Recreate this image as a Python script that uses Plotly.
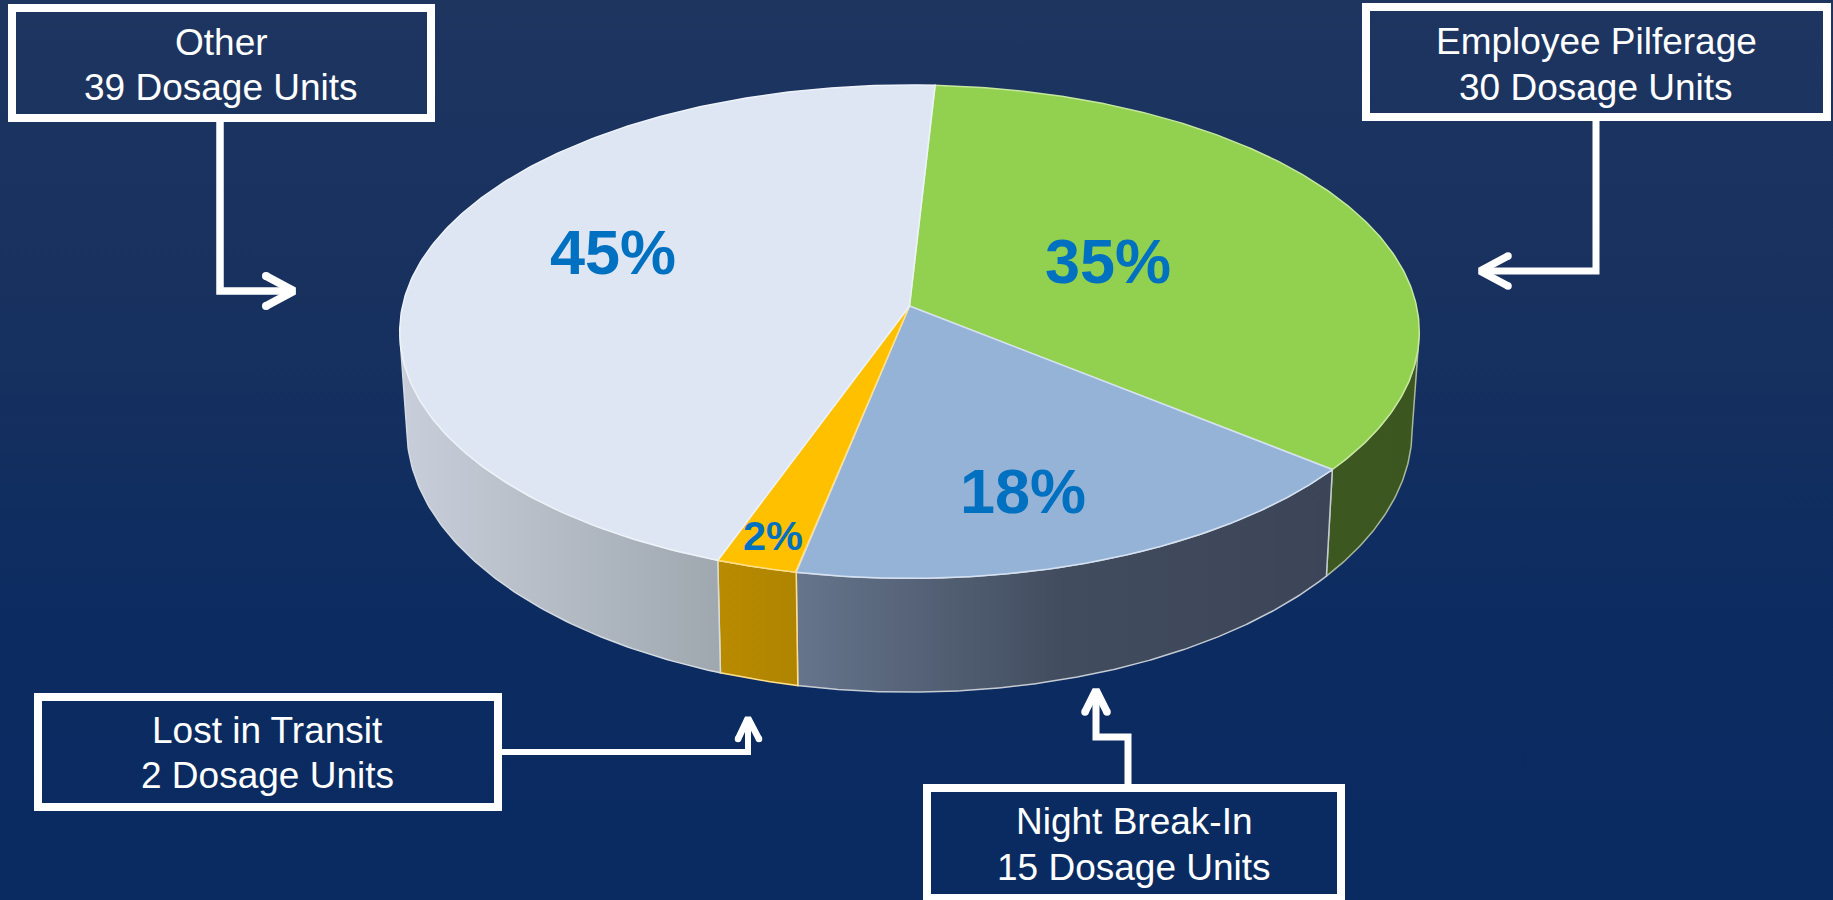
import numpy as np
import plotly.graph_objects as go

# ---- data ----
categories = ["Employee Pilferage", "Night Break-In", "Lost in Transit", "Other"]
dosage_units = [30, 15, 2, 39]
percent_labels = ["35%", "18%", "2%", "45%"]

# ---- styling ----
top_colors = ["#92D050", "#95B3D7", "#FFC000", "#DEE6F3"]
edge_colors = ["#C6E89E", "#D5E2F2", "#FFE08A", "#EEF3F9"]
wall_edges = ["#A9B79A", "#C5CBD3", "#FFE08A", "#D6DBE2"]
side_stops = [
    (1100, 1420, ["#3F5A1F", "#3C5620"]),
    (795, 1335, ["#66758C", "#414C5E", "#3B4557"]),
    (715, 796, ["#B98B00", "#AF8400"]),
    (400, 720, ["#C8CFDA", "#9FA7AF"]),
]
START_DEG = 3.2
CX, CY = 909.5, 306.0
A, B, K = 507.0, 244.0, 0.1043
SIDE_SX, SIDE_SY, SIDE_Y0 = 0.986, 1.065, 402.0

label_pos = [(1108, 261, 63), (1023, 491, 63), (773, 535, 41.5), (613, 252, 63)]
boxes = [
    (12, 8, 431, 118),
    (1366, 7, 1827, 117),
    (38, 697, 498, 807),
    (927, 788, 1341, 898),
]
box_text = [
    ("Other", "39 Dosage Units", 221, 53, 98),
    ("Employee Pilferage", "30 Dosage Units", 1596, 52, 98),
    ("Lost in Transit", "2 Dosage Units", 267, 741, 786),
    ("Night Break-In", "15 Dosage Units", 1134, 832, 878),
]
arrows = [
    ([220, 220, 293], [122, 291, 291], [(266, 276), (294, 291), (266, 306)], 7.5),
    ([1596, 1596, 1481], [121, 271, 271], [(1508, 256), (1480, 271), (1508, 286)], 7),
    ([502, 748, 748], [752, 752, 719], [(738, 739), (748, 718), (759, 739)], 6),
    ([1128, 1128, 1096, 1096], [784, 737, 737, 691], [(1085, 712), (1096, 690), (1107, 712)], 7),
]


def rim(theta_deg):
    t = np.radians(theta_deg)
    u, v = np.sin(t), -np.cos(t)
    d = 1 - K * v
    return A * u / d, B * v / d, v


fig = go.Figure()

# background
fig.add_trace(go.Scatter(
    x=[0, 1833, 1833, 0, 0], y=[0, 0, 900, 900, 0], mode="lines", fill="toself",
    line=dict(width=0), hoverinfo="skip", showlegend=False,
    fillgradient=dict(type="vertical", start=0, stop=900,
                      colorscale=[[0, "#1E3560"], [0.4, "#16305F"], [0.72, "#0B2B61"], [1, "#0A2B61"]]),
))

fractions = np.array(dosage_units, dtype=float) / sum(dosage_units)
edges = START_DEG + 360 * np.concatenate([[0], np.cumsum(fractions)])

# side walls: only the part of the rim that faces the viewer
for i, name in enumerate(categories):
    th = np.linspace(edges[i], edges[i + 1], 240)
    rx, ry, v = rim(th)
    keep = v >= K
    rx, ry = rx[keep], ry[keep]
    top_x, top_y = CX + rx, CY + ry
    bot_x, bot_y = CX + SIDE_SX * rx, SIDE_Y0 + SIDE_SY * ry
    x = np.concatenate([top_x, bot_x[::-1], top_x[:1]])
    y = np.concatenate([top_y, bot_y[::-1], top_y[:1]])
    s0, s1, cols = side_stops[i]
    scale = [[j / (len(cols) - 1), c] for j, c in enumerate(cols)]
    fig.add_trace(go.Scatter(
        x=x, y=y, mode="lines", fill="toself", name=name + " side",
        line=dict(color=wall_edges[i], width=1.5), hoverinfo="skip", showlegend=False,
        fillgradient=dict(type="horizontal", start=s0, stop=s1, colorscale=scale),
    ))

# top faces
for i, name in enumerate(categories):
    th = np.linspace(edges[i], edges[i + 1], 240)
    rx, ry, _ = rim(th)
    x = np.concatenate([[CX], CX + rx, [CX]])
    y = np.concatenate([[CY], CY + ry, [CY]])
    fig.add_trace(go.Scatter(
        x=x, y=y, mode="lines", fill="toself", fillcolor=top_colors[i], name=name,
        line=dict(color=edge_colors[i], width=1.5),
        text=f"{name}: {dosage_units[i]} Dosage Units", hoverinfo="text", showlegend=False,
    ))

# arrows
for sx, sy, head, w in arrows:
    fig.add_trace(go.Scatter(x=sx, y=sy, mode="lines", line=dict(color="white", width=w),
                             hoverinfo="skip", showlegend=False))
    hx, hy = zip(*head)
    fig.add_trace(go.Scatter(x=hx, y=hy, mode="lines", line=dict(color="white", width=w + 0.5),
                             hoverinfo="skip", showlegend=False))
    fig.add_trace(go.Scatter(x=[hx[0], hx[2]], y=[hy[0], hy[2]], mode="markers",
                             marker=dict(color="white", size=w + 0.5, line=dict(width=0)),
                             hoverinfo="skip", showlegend=False))

shapes = [dict(type="rect", xref="x", yref="y", x0=b[0], y0=b[1], x1=b[2], y1=b[3],
               line=dict(color="white", width=8), fillcolor="rgba(0,0,0,0)") for b in boxes]

annotations = []
for line1, line2, cx, b1, b2 in box_text:
    for txt, base in ((line1, b1), (line2, b2)):
        annotations.append(dict(x=cx, y=base - 11, xref="x", yref="y", text=txt, showarrow=False,
                                xanchor="center", yanchor="middle",
                                font=dict(family="Liberation Sans", size=37, color="white")))
for (lx, ly, ls), txt in zip(label_pos, percent_labels):
    annotations.append(dict(x=lx, y=ly, xref="x", yref="y", text=f"<b>{txt}</b>", showarrow=False,
                            xanchor="center", yanchor="middle",
                            font=dict(family="Liberation Sans", size=ls, color="#0070C0")))

fig.update_layout(
    width=1833, height=900, margin=dict(l=0, r=0, t=0, b=0), showlegend=False,
    paper_bgcolor="#0B2B61", plot_bgcolor="#0B2B61", shapes=shapes, annotations=annotations,
    xaxis=dict(range=[0, 1833], visible=False, fixedrange=True),
    yaxis=dict(range=[900, 0], visible=False, fixedrange=True),
)

fig.write_html("out.html", config={"displayModeBar": False},
               post_script="document.body.style.margin='0';document.body.style.overflow='hidden';")
